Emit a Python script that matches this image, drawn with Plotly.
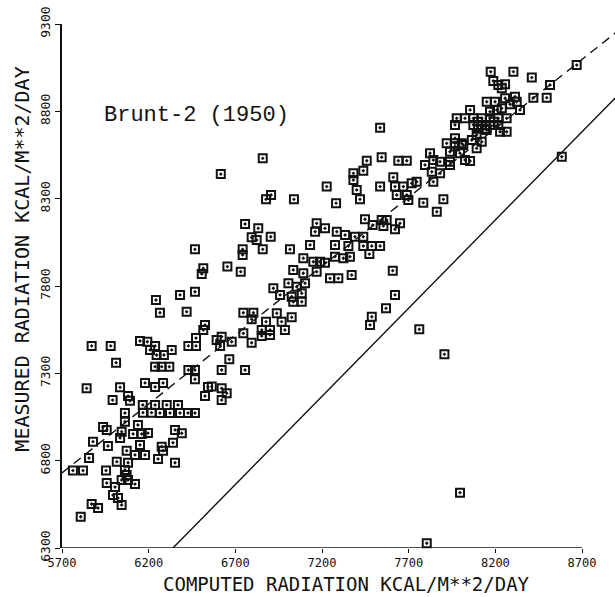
import plotly.graph_objects as go

# Daily radiation, computed (Brunt-2 formula) vs measured, kcal/m**2/day
computed = [
    5842, 6035, 6179, 6237, 6283, 5992, 6081, 6092, 6525, 6542,
    6166, 6237, 6304, 6369, 6167, 6217, 6265, 6323, 6381, 6427,
    6467, 6063, 6063, 6138, 5937, 5958, 6044, 6035, 6110, 6160,
    6196, 6352, 6391, 5879, 5965, 6150, 6275, 6283, 6340, 6073,
    6121, 6179, 5856, 6254, 6352, 6016, 6081, 5763, 5821, 5954,
    6063, 6073, 5958, 6044, 6081, 6121, 5994, 6023, 6044, 5871,
    5908, 5808, 6006,
    6506, 6242, 6381, 6467, 6265, 6419, 6525, 6515, 6473, 6429,
    6473, 5871, 5981, 6012, 6150, 6192, 6237, 6208, 6246, 6288,
    6333, 6237, 6275, 6319, 6429, 6467, 6467,
    6654, 6731, 7034, 7092, 7169, 7246, 7294, 6919, 6958, 7006,
    7054, 7102, 7083, 7025, 7034, 7083, 6746, 6804, 6794, 6939,
    6877, 6967, 7025, 6986, 6852, 6900, 6852, 6900, 6746, 6794,
    6592, 6621, 6612, 6679, 6665, 6621, 6756, 6564, 6621, 6650,
    6621,
    6858, 6616, 7227, 7281, 6877, 6906, 7038, 6756, 6832, 6794,
    6823, 6904, 6858, 6742, 6742, 6467, 7015, 7169, 7160, 7217,
    7131, 7285, 7275, 7092, 7150, 7188, 7217, 7275, 6515,
    7544, 7640, 7689, 7458, 7438, 7381, 7381, 7400, 7419, 7535,
    7611, 7621, 7669, 7717, 7746, 7631, 7689, 7698, 7823, 7842,
    7794, 7881, 7938, 7833, 7881, 7842, 7919, 7967, 8006, 7938,
    7996, 7938, 8025, 7784, 7900, 7862, 7448, 7492, 7544, 7573,
    7554, 7650, 7621, 7333, 7390, 7438, 7352, 7438, 7487, 7535,
    7473, 7323, 7361, 7608, 7371,
    8669, 8173, 8304, 8410, 8515, 8188, 8217, 8237, 8256, 8419,
    8496, 8150, 8198, 8256, 8313, 8323, 8285, 8342, 8237, 8208,
    8169, 8054, 7977, 8025, 8073, 8121, 8169, 8217, 8265, 7967,
    8073, 8121, 8169, 8217, 8265, 8227, 8150, 8092, 8064, 8121,
    7967, 7967, 8015, 8092, 8054, 8583, 8100, 8140, 8190, 8100,
    7477, 7487, 7569, 7621, 7761, 7906, 7996, 7804, 7535,
]

measured = [
    7214, 7220, 7245, 7222, 7245, 7147, 7170, 7143, 7170, 7222,
    7119, 7119, 7119, 7119, 7075, 7075, 7073, 7073, 7073, 7073,
    7073, 7073, 7023, 7004, 6993, 6976, 6966, 6930, 6953, 6953,
    6958, 6976, 6957, 6909, 6884, 6890, 6880, 6857, 6903, 6857,
    6833, 6833, 6815, 6810, 6788, 6794, 6788, 6743, 6743, 6743,
    6747, 6718, 6672, 6689, 6689, 6666, 6603, 6586, 6546, 6552,
    6529, 6479, 6649,
    7869, 7720, 7749, 7767, 7647, 7653, 7577, 7548, 7502, 7457,
    7457, 7457, 7457, 7361, 7485, 7481, 7457, 7434, 7405, 7405,
    7434, 7338, 7338, 7338, 7319, 7319, 7266,
    7911, 7882, 7892, 7873, 7882, 7844, 7844, 7787, 7749, 7816,
    7796, 7816, 7758, 7739, 7710, 7710, 7647, 7647, 7609, 7644,
    7596, 7596, 7621, 7548, 7548, 7548, 7514, 7520, 7529, 7475,
    7491, 7510, 7457, 7481, 7380, 7319, 7319, 7224, 7214, 7186,
    7147,
    8531, 8441, 8369, 8274, 8296, 8321, 8296, 8155, 8130, 8079,
    8063, 8082, 8010, 8010, 7978, 8010, 8010, 8159, 8111, 8130,
    8035, 8111, 8035, 7959, 7939, 7939, 7933, 7968, 7901,
    8537, 8517, 8517, 8517, 8460, 8445, 8407, 8350, 8296, 8369,
    8422, 8369, 8369, 8388, 8397, 8321, 8321, 8292, 8560, 8521,
    8493, 8512, 8512, 8454, 8445, 8397, 8617, 8617, 8617, 8569,
    8560, 8493, 8521, 8277, 8296, 8225, 8182, 8149, 8178, 8178,
    8144, 8159, 8125, 8092, 8082, 8082, 8029, 8029, 8029, 8029,
    7983, 7959, 7968, 7888, 7863,
    9065, 9027, 9027, 8993, 8951, 8974, 8951, 8932, 8955, 8878,
    8878, 8855, 8855, 8875, 8884, 8855, 8840, 8808, 8817, 8808,
    8798, 8808, 8760, 8760, 8760, 8760, 8760, 8760, 8760, 8722,
    8722, 8722, 8722, 8722, 8683, 8683, 8693, 8665, 8636, 8626,
    8646, 8598, 8607, 8588, 8516, 8540, 8740, 8700, 8740, 8700,
    7577, 7624, 7672, 7749, 7552, 7409, 6617, 6327, 8706,
]

# Fitted regression line (dashed) and the reference line (solid)
fit_x = [5700, 8900]
fit_y = [6730, 9255]
ref_x = [6340, 8900]
ref_y = [6300, 8885]

x_ticks = [5700, 6200, 6700, 7200, 7700, 8200, 8700]
y_ticks = [6300, 6800, 7300, 7800, 8300, 8800, 9300]

INK = "#111111"
PLOT_FONT = "DejaVu Sans Mono"

fig = go.Figure()

fig.add_trace(go.Scatter(
    x=ref_x, y=ref_y, mode="lines",
    line=dict(color=INK, width=1.4),
    hoverinfo="skip", showlegend=False,
))
fig.add_trace(go.Scatter(
    x=fit_x, y=fit_y, mode="lines",
    line=dict(color=INK, width=1.4, dash="9px,6px"),
    hoverinfo="skip", showlegend=False,
))
fig.add_trace(go.Scatter(
    x=computed, y=measured, mode="markers",
    marker=dict(symbol="square-open-dot", size=8, color=INK,
                line=dict(color=INK, width=2)),
    showlegend=False, cliponaxis=False,
))

# bottom axis line stops at the last tick
fig.add_shape(type="line", xref="x", yref="y",
              x0=5700, x1=8700, y0=6300, y1=6300,
              line=dict(color=INK, width=1.6))

fig.add_annotation(
    text="Brunt-2 (1950)", xref="x", yref="y",
    x=5931, y=8779, xanchor="left", yanchor="middle", showarrow=False,
    font=dict(family="Liberation Mono", size=22, color=INK),
)
fig.add_annotation(
    text="COMPUTED RADIATION KCAL/M**2/DAY", xref="paper", yref="paper",
    x=0.515, y=-0.069, xanchor="center", yanchor="middle", showarrow=False,
    font=dict(family=PLOT_FONT, size=19, color=INK),
)
fig.add_annotation(
    text="MEASURED RADIATION KCAL/M**2/DAY", xref="paper", yref="paper",
    x=-0.073, y=0.5515, xanchor="center", yanchor="middle", showarrow=False,
    textangle=-90,
    font=dict(family=PLOT_FONT, size=20, color=INK),
)

fig.update_layout(
    width=615, height=597,
    margin=dict(l=62, r=0, t=24, b=49),
    paper_bgcolor="white", plot_bgcolor="white",
    font=dict(family=PLOT_FONT, color=INK, size=12),
    xaxis=dict(
        range=[5700, 8890], tickvals=x_ticks,
        ticktext=[str(v) for v in x_ticks],
        ticks="outside", ticklen=4, tickwidth=1.4, tickcolor=INK,
        showline=False, showgrid=False, zeroline=False,
        tickfont=dict(family=PLOT_FONT, size=12, color=INK),
    ),
    yaxis=dict(
        range=[6300, 9300], tickvals=y_ticks,
        ticktext=[str(v) for v in y_ticks],
        ticks="outside", ticklen=5, tickwidth=1.4, tickcolor=INK,
        showline=True, linecolor=INK, linewidth=1.6,
        showgrid=False, zeroline=False, tickangle=-90,
        tickfont=dict(family=PLOT_FONT, size=13, color=INK),
    ),
)

fig.write_html("out.html")
